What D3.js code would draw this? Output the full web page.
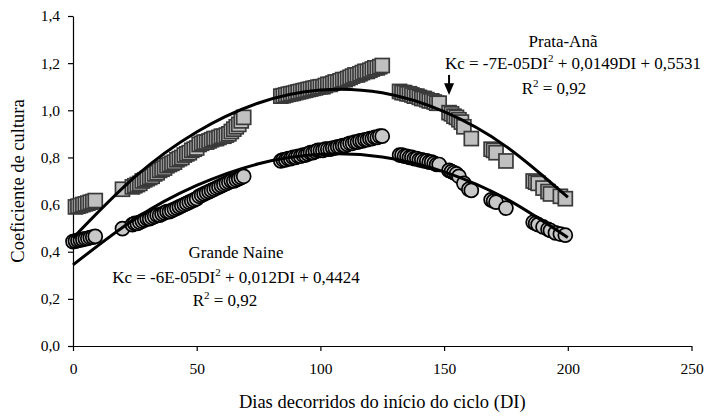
<!DOCTYPE html>
<html>
<head>
<meta charset="utf-8">
<script src="https://cdn.jsdelivr.net/npm/d3@7"></script>
<style>
  body { margin: 0; background: #fff; }
  text { font-family: "Liberation Serif", "Times New Roman", serif; fill: #000; }
</style>
</head>
<body>
<svg id="chart" width="706" height="418"></svg>
<script>
// Prata-Anã (squares)
const diasPrata = [1,2,3,4,5,6,7,8,9,
  20,24,25,26,27,28,29,30,31,32,33,34,35,36,37,38,39,40,41,42,43,44,45,46,47,48,49,50,51,52,53,54,55,56,57,58,59,60,61,62,63,64,65,66,67,68,69,
  84,85,86,87,88,89,90,91,92,93,94,95,96,97,98,99,100,101,102,103,104,105,106,107,108,109,110,111,112,113,114,115,116,117,118,119,120,121,122,123,124,125,
  132,133,134,135,136,137,138,139,140,141,142,143,144,145,146,147,148,
  152,153,154,155,156,157,158,161,
  169,170,171,175,
  186,187,188,190,192,193,197,199];
const kcPrata = [0.59,0.593,0.596,0.60,0.603,0.606,0.61,0.613,0.617,
  0.665,0.675,0.68,0.685,0.69,0.70,0.705,0.71,0.715,0.72,0.73,0.735,0.745,0.75,0.755,0.765,0.77,0.775,0.78,0.79,0.795,0.80,0.81,0.815,0.82,0.83,0.835,0.84,0.855,0.86,0.865,0.865,0.87,0.875,0.88,0.88,0.885,0.89,0.89,0.895,0.90,0.91,0.92,0.93,0.94,0.955,0.97,
  1.06,1.062,1.065,1.068,1.07,1.072,1.075,1.078,1.08,1.083,1.085,1.088,1.09,1.093,1.095,1.098,1.10,1.10,1.105,1.11,1.11,1.115,1.12,1.12,1.125,1.13,1.13,1.135,1.14,1.145,1.15,1.15,1.155,1.16,1.165,1.165,1.17,1.175,1.18,1.18,1.185,1.19,
  1.08,1.075,1.075,1.07,1.07,1.065,1.06,1.06,1.055,1.05,1.05,1.045,1.04,1.04,1.035,1.03,1.03,
  0.99,0.985,0.975,0.97,0.96,0.95,0.93,0.88,
  0.835,0.83,0.82,0.785,
  0.70,0.695,0.69,0.67,0.655,0.645,0.635,0.625];

// Grande Naine (circles)
const diasNaine = [0,1,2,3,4,5,6,7,8,9,
  20,24,25,26,27,28,29,30,31,32,33,34,35,36,37,38,39,40,41,42,43,44,45,46,47,48,49,50,51,52,53,54,55,56,57,58,59,60,61,62,63,64,65,66,67,68,69,
  84,85,86,87,88,89,90,91,92,93,94,95,96,97,98,99,100,101,102,103,104,105,106,107,108,109,110,111,112,113,114,115,116,117,118,119,120,121,122,123,124,125,
  132,133,134,135,136,137,138,139,140,141,142,143,144,145,146,147,148,
  152,153,154,155,156,158,160,161,
  169,170,171,175,
  186,187,188,190,192,193,195,197,199];
const kcNaine = [0.443,0.445,0.448,0.45,0.452,0.455,0.457,0.46,0.462,0.465,
  0.498,0.515,0.52,0.52,0.525,0.53,0.535,0.54,0.54,0.545,0.55,0.555,0.555,0.56,0.565,0.57,0.57,0.575,0.58,0.585,0.59,0.595,0.60,0.605,0.61,0.615,0.62,0.625,0.635,0.64,0.645,0.65,0.655,0.66,0.665,0.67,0.675,0.68,0.685,0.69,0.695,0.70,0.70,0.705,0.71,0.715,0.72,
  0.785,0.79,0.79,0.795,0.795,0.80,0.80,0.805,0.805,0.81,0.81,0.815,0.82,0.82,0.825,0.83,0.83,0.83,0.835,0.835,0.835,0.84,0.84,0.845,0.845,0.85,0.85,0.855,0.86,0.86,0.865,0.865,0.87,0.87,0.875,0.875,0.88,0.88,0.885,0.885,0.89,0.89,
  0.81,0.81,0.805,0.805,0.80,0.80,0.795,0.795,0.79,0.79,0.785,0.785,0.78,0.78,0.775,0.77,0.77,
  0.745,0.74,0.735,0.73,0.72,0.69,0.665,0.66,
  0.62,0.615,0.61,0.585,
  0.525,0.52,0.515,0.505,0.495,0.49,0.48,0.475,0.47];

// trend lines, points
const trendDias = [0,25,50,75,100,125,150,175,200];
const trendPrata = [0.458,0.717,0.908,1.031,1.086,1.074,0.994,0.847,0.631];
const trendNaine = [0.344,0.539,0.681,0.773,0.813,0.802,0.739,0.625,0.460];

const xTicks = [0,50,100,150,200,250];
const yTicks = [0,0.2,0.4,0.6,0.8,1.0,1.2,1.4];

const svg = d3.select('#chart');

const x = d3.scaleLinear().domain([0, 250]).range([73, 691.5]);
const y = d3.scaleLinear().domain([0, 1.4]).range([346, 16]);

const fmt = d => d3.format('.1f')(d).replace('.', ',');

// axes
const xAxis = svg.append('g')
  .attr('transform', `translate(0, ${y(0)})`)
  .call(d3.axisBottom(x).tickValues(xTicks).tickSize(5).tickSizeOuter(0).tickPadding(12));
const yAxis = svg.append('g')
  .attr('transform', `translate(${x(0)}, 0)`)
  .call(d3.axisLeft(y).tickValues(yTicks).tickFormat(fmt).tickSize(5).tickSizeOuter(0).tickPadding(8));

[xAxis, yAxis].forEach(a => {
  a.selectAll('path, line').attr('stroke', '#000').attr('stroke-width', 1.2);
  a.selectAll('text')
    .style('font-family', '"Liberation Serif", serif')
    .style('font-size', '15.5px')
    .attr('fill', '#000');
});

// squares
const side = 14;
svg.append('g')
  .selectAll('rect')
  .data(diasPrata.map((d, i) => ({ di: d, kc: kcPrata[i] })))
  .enter()
  .append('rect')
  .attr('x', d => x(d.di) - side / 2)
  .attr('y', d => y(d.kc) - side / 2)
  .attr('width', side)
  .attr('height', side)
  .attr('fill', '#c0c0c0')
  .attr('stroke', '#3a3a3a')
  .attr('stroke-width', 1.7);

// circles
svg.append('g')
  .selectAll('circle')
  .data(diasNaine.map((d, i) => ({ di: d, kc: kcNaine[i] })))
  .enter()
  .append('circle')
  .attr('cx', d => x(d.di))
  .attr('cy', d => y(d.kc))
  .attr('r', 7)
  .attr('fill', '#c8c8c8')
  .attr('stroke', '#000')
  .attr('stroke-width', 1.7);

// trend lines
const line = d3.line()
  .x(d => x(d[0]))
  .y(d => y(d[1]))
  .curve(d3.curveNatural);

[trendPrata, trendNaine].forEach(vals => {
  svg.append('path')
    .datum(trendDias.map((d, i) => [d, vals[i]]))
    .attr('d', line)
    .attr('fill', 'none')
    .attr('stroke', '#000')
    .attr('stroke-width', 3);
});

// arrow pointing at Prata-Anã
const arrowX = x(152);
svg.append('line')
  .attr('x1', arrowX).attr('x2', arrowX)
  .attr('y1', y(1.15)).attr('y2', y(1.11))
  .attr('stroke', '#000').attr('stroke-width', 2);
svg.append('path')
  .attr('d', `M${arrowX - 5},${y(1.115)} L${arrowX + 5},${y(1.115)} L${arrowX},${y(1.065)} Z`)
  .attr('fill', '#000');

// equation labels
function eqLabel(cx, yBase, parts) {
  const t = svg.append('text')
    .attr('x', cx)
    .attr('y', yBase)
    .attr('text-anchor', 'middle')
    .style('font-size', '17px');
  parts.forEach(p => {
    if (p.sup) {
      t.append('tspan').attr('dy', -7).style('font-size', '11px').text(p.sup);
      t.append('tspan').attr('dy', 7).text(p.after || '');
    } else {
      t.append('tspan').text(p.text);
    }
  });
}

eqLabel(563, 47, [{ text: 'Prata-Anã' }]);
eqLabel(573, 69, [{ text: 'Kc = -7E-05DI' }, { sup: '2', after: ' + 0,0149DI + 0,5531' }]);
eqLabel(554, 94, [{ text: 'R' }, { sup: '2', after: ' = 0,92' }]);

eqLabel(236, 258, [{ text: 'Grande Naine' }]);
eqLabel(236, 283, [{ text: 'Kc = -6E-05DI' }, { sup: '2', after: ' + 0,012DI + 0,4424' }]);
eqLabel(225, 306, [{ text: 'R' }, { sup: '2', after: ' = 0,92' }]);

// axis titles
svg.append('text')
  .attr('x', x(125))
  .attr('y', 408)
  .attr('text-anchor', 'middle')
  .style('font-size', '18.5px')
  .text('Dias decorridos do início do ciclo (DI)');

svg.append('text')
  .attr('transform', `translate(24, ${y(0.7)}) rotate(-90)`)
  .attr('text-anchor', 'middle')
  .style('font-size', '18.5px')
  .text('Coeficiente de cultura');
</script>
</body>
</html>
